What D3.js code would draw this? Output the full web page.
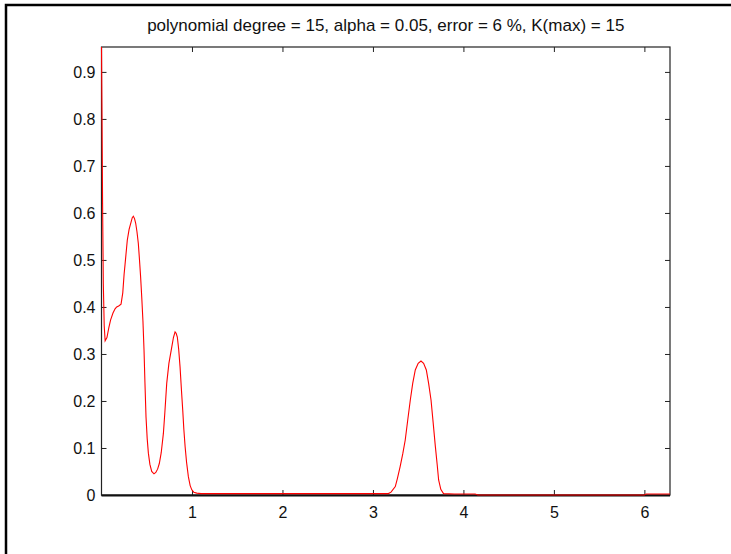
<!DOCTYPE html>
<html>
<head>
<meta charset="utf-8">
<script src="https://cdn.jsdelivr.net/npm/d3@7"></script>
<style>
  body { margin: 0; background: #fff; }
  svg { display: block; font-family: "Liberation Sans", Arial, sans-serif; }
</style>
</head>
<body>
<div id="chart"></div>
<script>
// chart values
const titleText = "polynomial degree = 15, alpha = 0.05, error = 6 %, K(max) = 15";
const xTicks = [1, 2, 3, 4, 5, 6];
const yTicks = [0, 0.1, 0.2, 0.3, 0.4, 0.5, 0.6, 0.7, 0.8, 0.9];
const xDomain = [0, 2 * Math.PI];
const yDomain = [0, 0.953];

const xs = [0, 0.006, 0.012, 0.02, 0.03, 0.04, 0.06, 0.08, 0.10, 0.127, 0.15, 0.168, 0.19, 0.216, 0.235,
  0.25, 0.26, 0.285, 0.305, 0.326, 0.34, 0.352, 0.365, 0.378, 0.392, 0.407, 0.42, 0.432, 0.445, 0.458,
  0.47, 0.48, 0.492, 0.505, 0.518, 0.535, 0.555, 0.58, 0.60, 0.62, 0.639, 0.66, 0.684, 0.70, 0.721,
  0.745, 0.777, 0.795, 0.813, 0.825, 0.838, 0.853, 0.868, 0.883, 0.898, 0.91, 0.924, 0.94, 0.96, 0.98,
  0.998, 1.02, 1.053, 1.1, 2.0, 3.0, 3.17, 3.2, 3.247, 3.27, 3.30, 3.33, 3.357, 3.385, 3.413, 3.44,
  3.468, 3.50, 3.531, 3.56, 3.59, 3.615, 3.642, 3.665, 3.69, 3.71, 3.726, 3.75, 3.78, 3.9, 4.13, 4.16,
  6.0, 6.02, 6.283];
const ys = [0.953, 0.80, 0.62, 0.45, 0.36, 0.328, 0.335, 0.355, 0.372, 0.387, 0.396, 0.400, 0.402, 0.406, 0.43,
  0.47, 0.49, 0.542, 0.565, 0.58, 0.59, 0.593, 0.588, 0.578, 0.56, 0.535, 0.50, 0.465, 0.42, 0.37,
  0.308, 0.24, 0.166, 0.12, 0.089, 0.065, 0.05, 0.045, 0.048, 0.055, 0.067, 0.09, 0.131, 0.175, 0.238,
  0.28, 0.315, 0.335, 0.347, 0.344, 0.336, 0.31, 0.273, 0.225, 0.18, 0.14, 0.103, 0.07, 0.039, 0.02,
  0.011, 0.006, 0.004, 0.003, 0.003, 0.003, 0.003, 0.006, 0.018, 0.035, 0.06, 0.088, 0.117, 0.16, 0.202, 0.238,
  0.266, 0.28, 0.285, 0.28, 0.266, 0.238, 0.202, 0.155, 0.103, 0.065, 0.032, 0.012, 0.003, 0.002, 0.002, 0,
  0, 0.002, 0.002];

const width = 731, height = 554;
const margin = { left: 101.5, right: 61, top: 47, bottom: 59 };

const svg = d3.select("#chart").append("svg")
  .attr("width", width).attr("height", height);

svg.append("rect").attr("width", width).attr("height", height).attr("fill", "#fff");

// figure frame (top and left edges only)
svg.append("path")
  .attr("d", `M6,${height} V5 H${width}`)
  .attr("fill", "none").attr("stroke", "#000").attr("stroke-width", 2.5);

const x = d3.scaleLinear().domain(xDomain).range([margin.left, width - margin.right]);
const y = d3.scaleLinear().domain(yDomain).range([height - margin.bottom, margin.top]);

const x0 = x.range()[0], x1 = x.range()[1], y0 = y.range()[0], y1 = y.range()[1];

// box
svg.append("rect")
  .attr("x", x0).attr("y", y1).attr("width", x1 - x0).attr("height", y0 - y1)
  .attr("fill", "none").attr("stroke", "#222").attr("stroke-width", 1.2);

const fmtY = d => d === 0 ? "0" : d3.format(".1f")(d);

const gx = svg.append("g").attr("transform", `translate(0,${y0})`)
  .call(d3.axisBottom(x).tickValues(xTicks).tickSizeInner(-5).tickSizeOuter(0).tickPadding(12).tickFormat(d3.format("d")));
const gy = svg.append("g").attr("transform", `translate(${x0},0)`)
  .call(d3.axisLeft(y).tickValues(yTicks).tickSizeInner(-5).tickSizeOuter(0).tickPadding(6).tickFormat(fmtY));
const gt = svg.append("g").attr("transform", `translate(0,${y1})`)
  .call(d3.axisTop(x).tickValues(xTicks).tickSizeInner(-5).tickSizeOuter(0).tickFormat(""));
const gr = svg.append("g").attr("transform", `translate(${x1},0)`)
  .call(d3.axisRight(y).tickValues(yTicks).tickSizeInner(-5).tickSizeOuter(0).tickFormat(""));

[gx, gy, gt, gr].forEach(g => {
  g.select(".domain").remove();
  g.selectAll(".tick line").attr("stroke", "#222");
  g.selectAll("text").attr("fill", "#111").style("font-size", "16px")
    .style("font-family", "'Liberation Sans', Arial, sans-serif");
});

// bottom axis line a little heavier, as in the reference
svg.append("line").attr("x1", x0).attr("x2", x1).attr("y1", y0 + 0.5).attr("y2", y0 + 0.5)
  .attr("stroke", "#111").attr("stroke-width", 2);

const pts = xs.map((v, i) => [v, ys[i]]);
const line = d3.line().x(d => x(d[0])).y(d => y(d[1])).curve(d3.curveLinear);

svg.append("path").datum(pts)
  .attr("d", line)
  .attr("fill", "none").attr("stroke", "#ff0000").attr("stroke-width", 1.1);

svg.append("text")
  .attr("x", (x0 + x1) / 2).attr("y", 31)
  .attr("text-anchor", "middle")
  .style("font-size", "17px").attr("fill", "#111")
  .text(titleText);
</script>
</body>
</html>
